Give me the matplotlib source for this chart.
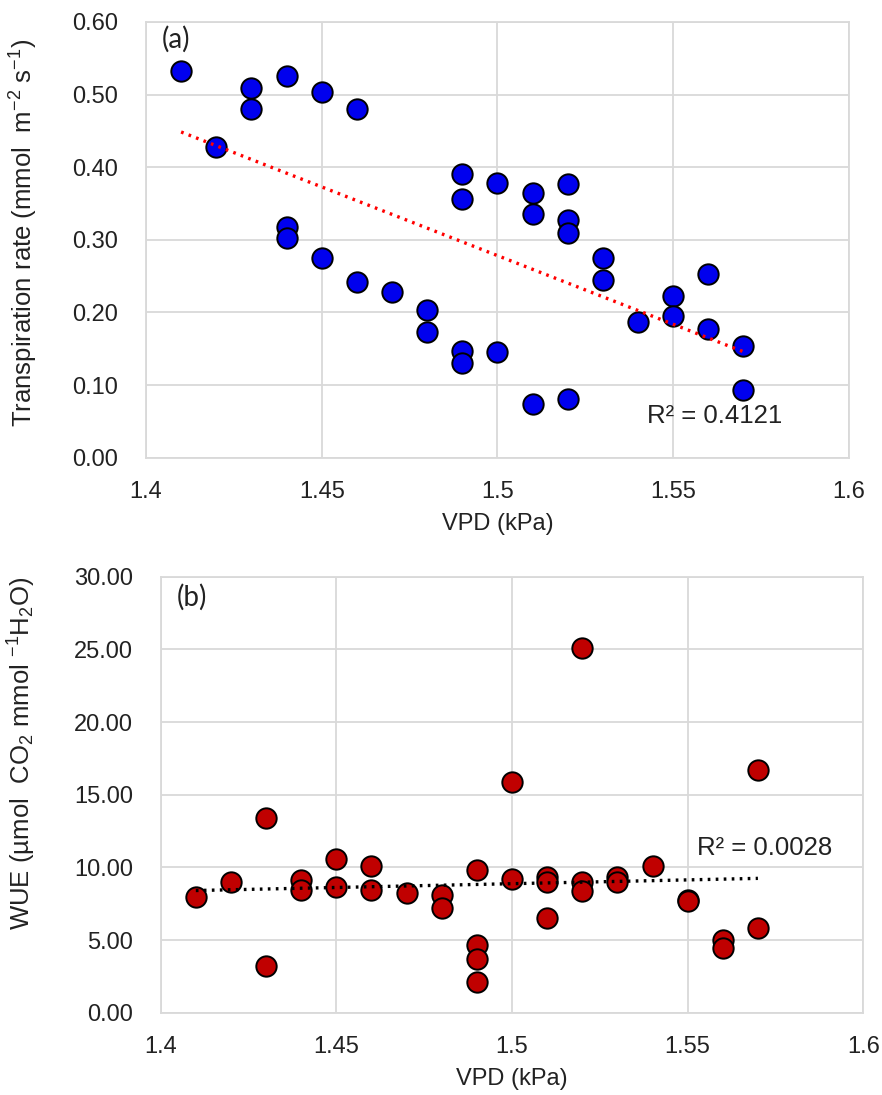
import numpy as np
import matplotlib
matplotlib.use("Agg")
import matplotlib.pyplot as plt

plt.rcParams['font.family'] = ['Liberation Sans', 'DejaVu Sans']
plt.rcParams['mathtext.fontset'] = 'custom'
plt.rcParams['mathtext.rm'] = 'Liberation Sans'
plt.rcParams['mathtext.it'] = 'Liberation Sans:italic'
plt.rcParams['mathtext.default'] = 'regular'

# (a) transpiration rate vs VPD
vpd_a = [1.41, 1.42, 1.43, 1.43, 1.44, 1.44, 1.44, 1.45, 1.45, 1.46, 1.46, 1.47,
         1.48, 1.48, 1.49, 1.49, 1.49, 1.49, 1.50, 1.50, 1.51, 1.51, 1.51,
         1.52, 1.52, 1.52, 1.52, 1.53, 1.53, 1.54, 1.55, 1.55, 1.56, 1.56, 1.57, 1.57]
trans = [0.533, 0.428, 0.509, 0.480, 0.526, 0.317, 0.303, 0.503, 0.275, 0.480, 0.242, 0.228,
         0.203, 0.173, 0.390, 0.356, 0.147, 0.130, 0.378, 0.145, 0.364, 0.336, 0.074,
         0.377, 0.327, 0.309, 0.081, 0.275, 0.244, 0.187, 0.223, 0.195, 0.253, 0.177, 0.154, 0.093]

# (b) WUE vs VPD
vpd_b = [1.41, 1.42, 1.43, 1.43, 1.44, 1.44, 1.45, 1.45, 1.46, 1.46, 1.47,
         1.48, 1.48, 1.49, 1.49, 1.49, 1.49, 1.50, 1.50, 1.51, 1.51, 1.51,
         1.52, 1.52, 1.52, 1.53, 1.53, 1.54, 1.55, 1.55, 1.56, 1.56, 1.57, 1.57]
wue = [7.94, 9.01, 13.42, 3.23, 9.13, 8.44, 10.60, 8.62, 10.09, 8.44, 8.23,
       8.10, 7.22, 9.82, 4.66, 3.69, 2.11, 15.87, 9.22, 9.36, 9.01, 6.51,
       25.11, 9.01, 8.39, 9.31, 8.97, 10.09, 7.75, 7.68, 5.00, 4.43, 16.67, 5.83]

r2_a = "R² = 0.4121"
r2_b = "R² = 0.0028"

fig = plt.figure(figsize=(8.82, 10.95), dpi=100)
ax1 = fig.add_axes([0.1655, 0.582, 0.797, 0.398])
ax2 = fig.add_axes([0.1822, 0.0752, 0.7966, 0.398])

grid_c = '#d9d9d9'


def style_axis(ax):
    ax.set_xlim(1.4, 1.6)
    ax.set_xticks([1.4, 1.45, 1.5, 1.55, 1.6])
    ax.set_xticklabels(['1.4', '1.45', '1.5', '1.55', '1.6'])
    ax.grid(True, color=grid_c, linewidth=1.3)
    ax.set_axisbelow(True)
    for s in ax.spines.values():
        s.set_color(grid_c)
        s.set_linewidth(1.3)
    ax.tick_params(axis='y', length=0, labelsize=17, colors='#222222', pad=20)
    ax.tick_params(axis='x', length=0, labelsize=17, colors='#222222', pad=17)
    ax.set_xlabel('VPD (kPa)', fontsize=17, color='#222222', labelpad=7)


# top panel
ax1.scatter(vpd_a, trans, s=215, color='#0000ee', edgecolor='black', linewidth=1.4, zorder=3)
fa = np.polyfit(vpd_a, trans, 1)
xa = np.array([min(vpd_a), max(vpd_a)])
ax1.plot(xa, np.polyval(fa, xa), color='red', linestyle=(0, (0.8, 1.6)), linewidth=2.4, zorder=4)
style_axis(ax1)
ax1.set_ylim(0, 0.6)
ax1.set_yticks(np.arange(0, 0.61, 0.1))
ax1.set_yticklabels(['%.2f' % v for v in np.arange(0, 0.61, 0.1)])
ax1.set_ylabel('Transpiration rate (mmol  m$^{-2}$ s$^{-1}$)', fontsize=18.5, color='#222222')
ax1.yaxis.set_label_coords(-0.151, 0.516)
ax1.text(0.022, 0.99, '(a)', transform=ax1.transAxes, fontsize=20, family='Lato',
         va='top', ha='left', color='#222222')
ax1.text(0.713, 0.08, r2_a, transform=ax1.transAxes, fontsize=18.5, va='baseline',
         ha='left', color='#222222')

# bottom panel
ax2.scatter(vpd_b, wue, s=215, color='#c00000', edgecolor='black', linewidth=1.4, zorder=3)
fb = np.polyfit(vpd_b, wue, 1)
xb = np.array([min(vpd_b), max(vpd_b)])
ax2.plot(xb, np.polyval(fb, xb), color='black', linestyle=(0, (0.8, 1.6)), linewidth=2.4, zorder=4)
style_axis(ax2)
ax2.set_ylim(0, 30)
ax2.set_yticks(np.arange(0, 31, 5))
ax2.set_yticklabels(['%.2f' % v for v in np.arange(0, 31, 5)])
ax2.set_ylabel('WUE (µmol  CO$_2$ mmol $^{-1}$H$_2$O)', fontsize=18.5, color='#222222')
ax2.yaxis.set_label_coords(-0.175, 0.596)
ax2.text(0.023, 0.985, '(b)', transform=ax2.transAxes, fontsize=20, family='Lato',
         va='top', ha='left', color='#222222')
ax2.text(0.763, 0.362, r2_b, transform=ax2.transAxes, fontsize=18.5, va='baseline',
         ha='left', color='#222222')

fig.savefig('out.png', dpi=100)
